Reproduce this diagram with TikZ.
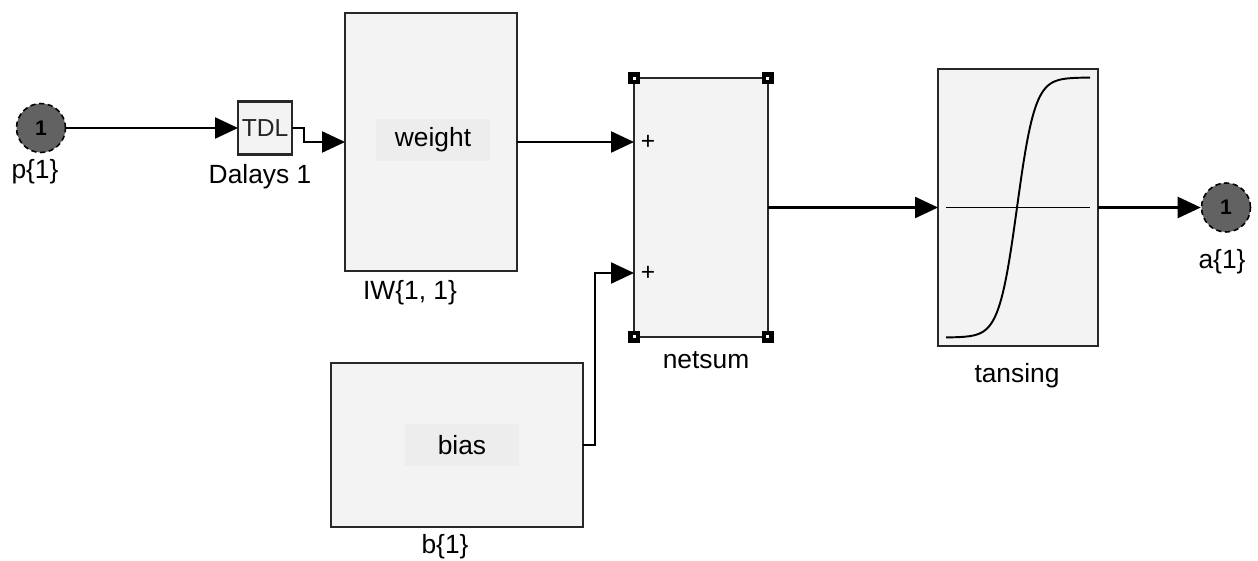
\documentclass[tikz,border=0pt]{standalone}
\usepackage{fontspec}
\setmainfont{Liberation Sans}
\usetikzlibrary{arrows.meta,calc}
\definecolor{blockfill}{RGB}{243,243,243}
\definecolor{innerfill}{RGB}{237,237,237}
\definecolor{portgray}{RGB}{98,98,98}
\definecolor{edgegray}{RGB}{40,40,40}
\tikzset{
  block/.style={draw=edgegray,line width=1.5pt,fill=blockfill,inner sep=0pt,outer sep=0pt},
  wire/.style={line width=1.3pt,-{Triangle[length=0.46cm,width=0.42cm]}},
  lbl/.style={font=\fontsize{15}{17}\selectfont,inner sep=0pt},
  innerbox/.style={lbl,fill=innerfill,minimum width=2.3cm,minimum height=0.85cm},
  port/.style={circle,draw=black,densely dashed,line width=0.9pt,fill=portgray,
    minimum size=0.98cm,inner sep=0pt,font=\bfseries\fontsize{12}{14}\selectfont},
  cornermark/.style={fill=black,minimum size=0.23cm,inner sep=0pt},
}

\begin{document}
\begin{tikzpicture}[x=0.02cm,y=-0.02cm]
  \useasboundingbox (0,0) rectangle (1258,561);
  % input port and tapped delay line
  \node[port] (p) at (41,128) {1};
  \node[lbl] (plbl) at (35,172) {p\{1\}};
  \node[block,minimum width=1.08cm,minimum height=1.06cm,
        font=\fontsize{14}{16}\selectfont,text=black!85] (tdl) at (265,128) {TDL};
  \node[lbl] (tdllbl) at (260,177) {Dalays 1};
  % weight and bias blocks
  \node[block,minimum width=3.44cm,minimum height=5.16cm] (w) at (431,142) {};
  \node[innerbox] (wtxt) at (433,140) {weight};
  \node[lbl] (wlbl) at (410,293) {IW\{1, 1\}};
  \node[block,minimum width=5.04cm,minimum height=3.28cm] (b) at (457,445) {};
  \node[innerbox] (btxt) at (462,445) {bias};
  \node[lbl] (blbl) at (445,547) {b\{1\}};
  % net input sum
  \node[block,minimum width=2.68cm,minimum height=5.18cm] (ns) at (701,207.5) {};
  \foreach \a in {north west,north east,south west,south east} {
    \node[cornermark] at (ns.\a) {};
    \fill[white] ($(ns.\a)+(-1.5,-1.5)$) rectangle +(3,3);
  }
  \coordinate (in1) at ($(ns.west)+(0,-65.5)$);
  \coordinate (in2) at ($(ns.west)+(0,65.5)$);
  \node[font=\fontsize{14}{16}\selectfont] (plus1) at ($(in1)+(14,0)$) {+};
  \node[font=\fontsize{14}{16}\selectfont] (plus2) at ($(in2)+(14,0)$) {+};
  \node[lbl] (nslbl) at (706,360) {netsum};
  % transfer function
  \node[block,minimum width=3.2cm,minimum height=5.54cm] (ts) at (1018,207.5) {};
  \draw[line width=1.1pt] (946,207.5) -- (1090,207.5);
  \draw[line width=1.1pt] plot[domain=946:1090,samples=90] (\x,{207.5-130*tanh((\x-1017)/18)});
  \node[lbl] (tslbl) at (1017,376) {tansing};
  % output port
  \node[port] (a) at (1226,207.5) {1};
  \node[lbl] (albl) at (1222,262) {a\{1\}};
  % connectors
  \draw[wire] (p) -- (tdl);
  \draw[wire] (tdl.east) -- ++(12,0) |- (w.west);
  \draw[wire] (w.east) -- (in1);
  \draw[wire] (b.east) -- ++(12,0) |- (in2);
  \draw[wire] (ns.east) -- (ts.west);
  \draw[wire] (ts.east) -- (a);
\end{tikzpicture}
\end{document}
